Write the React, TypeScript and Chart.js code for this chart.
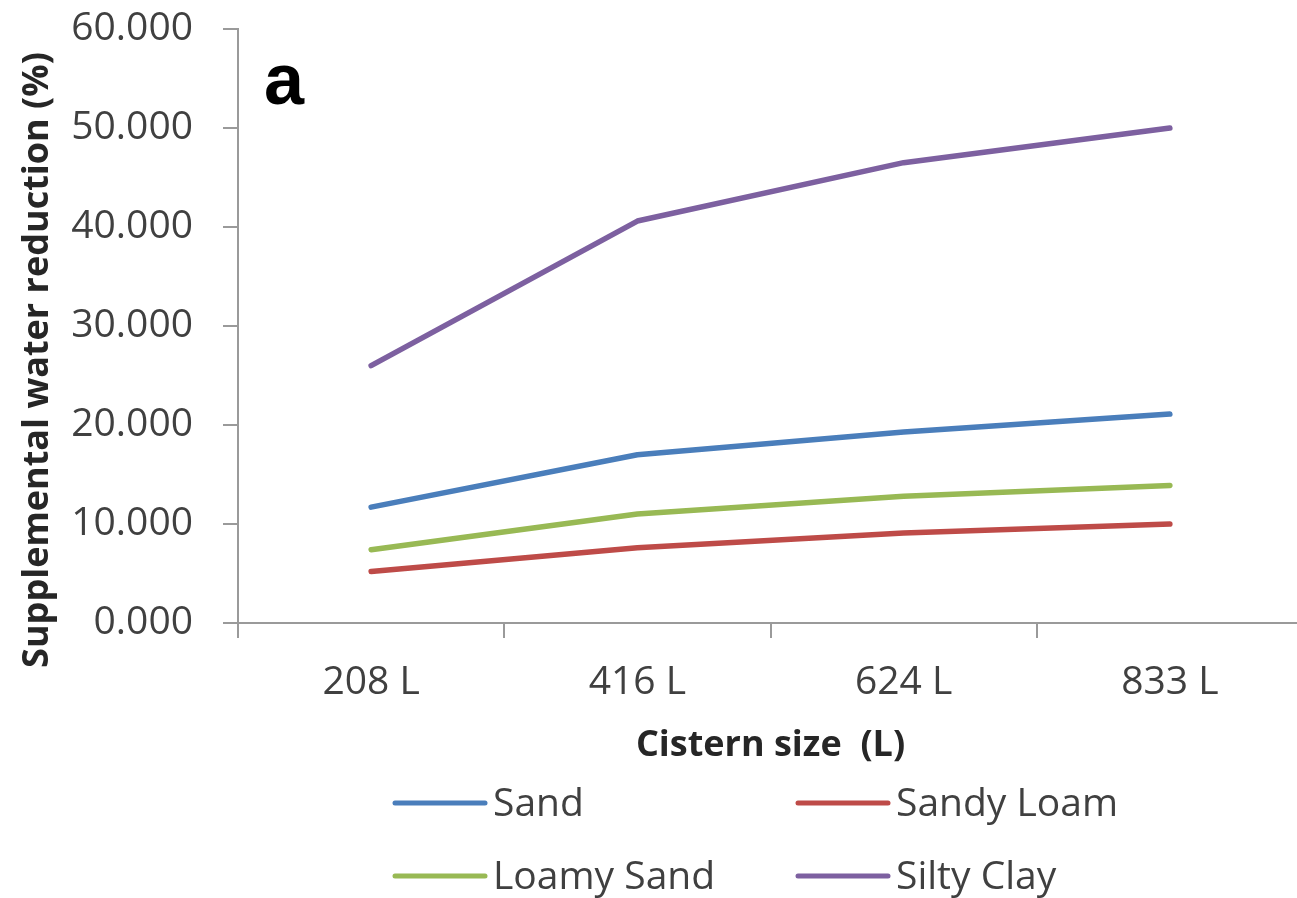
import React, { useEffect, useRef } from "react";
import { Chart, registerables } from "chart.js";

Chart.register(...registerables);

const categories = ["208 L", "416 L", "624 L", "833 L"];
const seriesNames = ["Sand", "Sandy Loam", "Loamy Sand", "Silty Clay"];
const sand = [11.7, 17.0, 19.3, 21.1];
const sandyLoam = [5.2, 7.6, 9.1, 10.0];
const loamySand = [7.4, 11.0, 12.8, 13.9];
const siltyClay = [26.0, 40.6, 46.5, 50.0];
const seriesColors = ["#4a7ebb", "#be4b48", "#98b954", "#7d60a0"];
const yMin = 0;
const yMax = 60;
const yStep = 10;
const xTitle = "Cistern size  (L)";
const yTitle = "Supplemental water reduction (%)";
const panelLabel = "a";

const TICK_FONT = "'Open Sans', sans-serif";
const AXIS_COLOR = "#9a9a9a";
const TEXT_COLOR = "#404040";

const extrasPlugin = {
  id: "extras",
  afterDraw(chart: any) {
    const ctx = chart.ctx;
    const area = chart.chartArea;
    ctx.save();
    // y axis title
    ctx.save();
    ctx.translate(48, 360);
    ctx.rotate(-Math.PI / 2);
    ctx.font = `bold 36px ${TICK_FONT}`;
    ctx.fillStyle = "#262626";
    ctx.textAlign = "center";
    ctx.textBaseline = "alphabetic";
    ctx.fillText(yTitle, 0, 0);
    ctx.restore();
    // x axis title
    ctx.font = `bold 36px ${TICK_FONT}`;
    ctx.fillStyle = "#262626";
    ctx.textAlign = "center";
    ctx.textBaseline = "alphabetic";
    ctx.fillText(xTitle, (area.left + area.right) / 2, 756);
    // panel label
    ctx.font = "bold 72px 'Liberation Sans', Arial, sans-serif";
    ctx.fillStyle = "#000000";
    ctx.textAlign = "left";
    ctx.fillText(panelLabel, 264, 104);
    // legend (2 x 2)
    const cols = [395, 798];
    const rows = [803, 876];
    chart.data.datasets.forEach((ds: any, i: number) => {
      const cx = cols[i % 2];
      const cy = rows[Math.floor(i / 2)];
      ctx.strokeStyle = ds.borderColor;
      ctx.lineWidth = 5;
      ctx.lineCap = "round";
      ctx.beginPath();
      ctx.moveTo(cx, cy);
      ctx.lineTo(cx + 90, cy);
      ctx.stroke();
      ctx.font = `39px ${TICK_FONT}`;
      ctx.fillStyle = TEXT_COLOR;
      ctx.textAlign = "left";
      ctx.textBaseline = "middle";
      ctx.fillText(ds.label, cx + 98, cy + 2);
    });
    ctx.restore();
  },
};

export default function App() {
  const canvasRef = useRef<HTMLCanvasElement | null>(null);

  useEffect(() => {
    document.body.style.margin = "0";
    document.body.style.overflow = "hidden";
    const canvas = canvasRef.current;
    if (!canvas) return;
    const values = [sand, sandyLoam, loamySand, siltyClay];
    const chart = new Chart(canvas, {
      type: "line",
      data: {
        labels: categories,
        datasets: seriesNames.map((name, i) => ({
          label: name,
          data: values[i],
          borderColor: seriesColors[i],
          backgroundColor: seriesColors[i],
          borderWidth: 5.5,
          pointRadius: 0,
          tension: 0,
          borderCapStyle: "round",
          borderJoinStyle: "round",
          fill: false,
        })),
      },
      options: {
        responsive: false,
        animation: false,
        devicePixelRatio: 1,
        layout: { padding: { top: 29, bottom: 155, left: 0, right: 7 } },
        plugins: {
          legend: { display: false },
          tooltip: { enabled: false },
          title: { display: false },
        },
        scales: {
          x: {
            type: "category",
            offset: true,
            grid: {
              display: true,
              offset: true,
              drawOnChartArea: false,
              drawTicks: true,
              tickLength: 15,
              color: AXIS_COLOR,
              lineWidth: 2,
            },
            border: { display: true, color: AXIS_COLOR, width: 2 },
            ticks: {
              font: { family: TICK_FONT, size: 39 },
              color: TEXT_COLOR,
              padding: 21,
              maxRotation: 0,
              autoSkip: false,
            },
            afterFit: (scale: any) => {
              scale.height = 120;
              scale.paddingLeft = 0;
              scale.paddingRight = 0;
            },
          },
          y: {
            min: yMin,
            max: yMax,
            grid: {
              display: true,
              drawOnChartArea: false,
              drawTicks: true,
              tickLength: 15,
              color: AXIS_COLOR,
              lineWidth: 2,
            },
            border: { display: true, color: AXIS_COLOR, width: 2 },
            ticks: {
              stepSize: yStep,
              font: { family: TICK_FONT, size: 39 },
              color: TEXT_COLOR,
              padding: 30,
              callback: (v: any) => Number(v).toFixed(3),
            },
            afterFit: (scale: any) => {
              scale.width = 238;
              scale.paddingTop = 0;
              scale.paddingBottom = 0;
            },
          },
        },
      },
      plugins: [extrasPlugin],
    } as any);
    return () => chart.destroy();
  }, []);

  return (
    <div style={{ width: 1297, height: 898, overflow: "hidden", position: "relative", background: "#fff" }}>
      <canvas ref={canvasRef} width={1310} height={898} style={{ display: "block" }} />
    </div>
  );
}
